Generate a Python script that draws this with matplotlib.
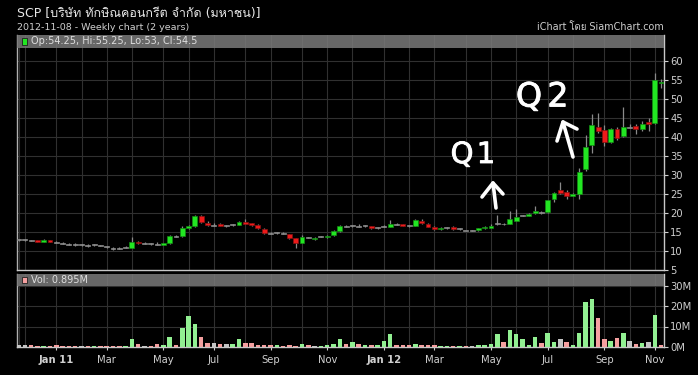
import numpy as np
import pandas as pd
import matplotlib
matplotlib.use("Agg")
import matplotlib.pyplot as plt
import matplotlib.patheffects as pe
from matplotlib import font_manager
from matplotlib.ft2font import FT2Font
from matplotlib.patches import Rectangle
from matplotlib.lines import Line2D

# weekly candles, Friday dated, last one is the running week (2012-11-08)
dates = pd.date_range("2010-11-26", periods=103, freq="W-FRI")

opens = [12.9, 12.9, 12.8, 12.9, 12.5, 12.9, 12.3, 12.0, 11.8, 11.6,
         11.6, 11.4, 11.6, 11.4, 11.1, 10.7, 10.6, 10.9, 10.9, 12.4,
         12.0, 11.9, 11.8, 11.6, 12.0, 13.8, 13.9, 16.0, 16.6, 19.3,
         17.3, 16.8, 17.2, 16.7, 16.9, 16.9, 17.7, 17.3, 16.8, 15.9,
         14.7, 14.8, 14.7, 14.4, 13.3, 12.2, 13.5, 13.1, 13.8, 13.6,
         14.1, 15.2, 16.5, 16.6, 16.5, 16.6, 16.5, 16.1, 16.5, 16.4,
         17.0, 17.0, 16.6, 16.6, 17.9, 17.2, 16.4, 15.7, 16.1, 16.3,
         15.8, 15.5, 15.5, 15.5, 16.0, 16.1, 17.2, 17.1, 17.2, 18.0,
         19.3, 19.3, 19.9, 20.1, 20.3, 23.6, 26.0, 25.6, 24.6, 25.0,
         31.5, 37.8, 42.6, 41.8, 38.7, 42.2, 40.3, 42.6, 43.0, 42.2,
         43.9, 43.6, 54.25]
highs = [13.2, 13.1, 13.0, 13.0, 13.1, 13.0, 12.6, 12.3, 12.1, 12.0,
         11.9, 11.9, 11.9, 11.7, 11.4, 11.1, 11.0, 11.3, 13.6, 12.6,
         12.3, 12.2, 12.5, 12.1, 14.1, 14.3, 16.6, 16.9, 19.6, 19.5,
         17.8, 17.3, 17.4, 16.9, 17.1, 17.9, 18.4, 17.5, 17.0, 16.0,
         15.0, 15.0, 14.9, 14.6, 13.4, 14.3, 13.8, 13.8, 14.0, 14.1,
         15.5, 16.8, 16.8, 16.8, 17.0, 16.8, 16.7, 16.3, 16.8, 18.1,
         17.4, 17.2, 16.8, 18.4, 18.5, 17.4, 16.6, 16.2, 16.3, 16.5,
         16.0, 15.6, 15.6, 16.1, 16.5, 17.1, 19.5, 17.4, 20.5, 21.0,
         19.6, 20.0, 21.9, 20.5, 23.5, 25.5, 28.2, 26.0, 25.2, 31.9,
         40.5, 46.0, 46.3, 43.2, 42.3, 42.6, 47.8, 43.3, 43.3, 44.3,
         45.0, 56.9, 55.25]
lows = [12.7, 12.7, 12.6, 12.4, 12.4, 12.3, 12.1, 11.8, 11.5, 11.4,
        11.4, 11.1, 11.4, 11.2, 10.9, 10.2, 10.4, 10.7, 10.8, 11.8,
        11.8, 11.7, 11.7, 11.5, 11.9, 13.6, 13.8, 15.8, 16.4, 17.4,
        16.5, 16.6, 16.5, 16.2, 16.7, 16.8, 17.0, 16.7, 15.9, 14.5,
        14.5, 14.6, 14.5, 13.2, 10.7, 12.0, 13.3, 12.9, 13.6, 13.5,
        14.0, 15.1, 16.3, 16.4, 16.3, 16.4, 15.9, 15.9, 16.2, 16.3,
        16.8, 16.5, 16.4, 16.5, 17.2, 16.2, 15.5, 15.5, 15.9, 15.5,
        15.6, 15.4, 15.3, 15.2, 15.9, 16.0, 16.9, 16.9, 17.1, 17.9,
        19.1, 19.2, 19.8, 19.8, 20.0, 22.8, 25.1, 23.6, 24.4, 23.8,
        31.1, 35.8, 41.0, 37.6, 38.3, 39.3, 40.0, 42.3, 40.8, 41.6,
        41.5, 43.3, 53.0]
closes = [12.9, 12.9, 12.8, 12.5, 13.0, 12.5, 12.3, 12.0, 11.8, 11.6,
          11.6, 11.4, 11.6, 11.4, 11.1, 10.7, 10.6, 10.9, 12.4, 12.0,
          12.0, 11.9, 11.8, 12.0, 13.9, 13.8, 16.0, 16.5, 19.3, 17.6,
          16.8, 16.8, 16.7, 16.7, 16.9, 17.7, 17.2, 16.9, 16.1, 14.8,
          14.7, 14.8, 14.7, 13.4, 12.1, 13.6, 13.5, 13.5, 13.8, 13.9,
          15.3, 16.6, 16.5, 16.6, 16.5, 16.6, 16.0, 16.1, 16.5, 17.1,
          17.0, 16.7, 16.6, 18.2, 17.4, 16.4, 15.7, 16.0, 16.1, 15.7,
          15.8, 15.5, 15.5, 16.0, 16.4, 16.6, 17.2, 17.1, 18.3, 19.0,
          19.3, 19.8, 20.4, 20.1, 23.3, 25.3, 25.3, 24.6, 24.9, 30.8,
          37.4, 43.2, 41.7, 38.6, 42.0, 39.7, 42.6, 42.6, 42.2, 43.3,
          43.3, 55.0, 54.5]
# volume in millions of shares
volumes = [0.8, 0.7, 0.6, 0.2, 0.2, 0.2, 0.6, 0.2, 0.2, 0.2,
           0.1, 0.2, 0.2, 0.1, 0.2, 0.2, 0.5, 0.2, 3.8, 1.2,
           0.2, 0.2, 1.1, 0.6, 4.6, 1.0, 9.1, 15.2, 11.1, 4.6,
           1.8, 1.8, 1.4, 1.2, 1.2, 3.8, 2.0, 2.0, 0.7, 0.7,
           1.0, 1.0, 0.2, 0.6, 0.2, 1.5, 0.6, 0.2, 0.2, 0.6,
           1.4, 3.8, 1.5, 2.2, 1.2, 0.6, 0.6, 0.6, 2.8, 6.4,
           0.8, 0.6, 0.6, 1.2, 0.7, 1.0, 0.6, 0.2, 0.5, 0.2,
           0.2, 0.1, 0.1, 0.6, 0.6, 1.4, 6.1, 2.2, 8.3, 6.4,
           3.6, 0.8, 5.0, 1.8, 6.9, 2.2, 3.6, 2.2, 0.8, 6.9,
           22.0, 23.5, 14.0, 3.8, 3.0, 4.3, 6.9, 2.8, 1.4, 1.8,
           2.2, 15.7, 0.895]

price_ticks = list(range(5, 61, 5))
vol_ticks = [0, 10, 20, 30]
vol_tick_labels = ["0M", "10M", "20M", "30M"]

title = "SCP [บริษัท ทักษิณคอนกรีต จำกัด (มหาชน)]"
subtitle = "2012-11-08 - Weekly chart (2 years)"
credit = "iChart โดย SiamChart.com"
ohlc_text = "Op:54.25, Hi:55.25, Lo:53, Cl:54.5"
vol_text = "Vol: 0.895M"


def find_font_with(char):
    code = ord(char)
    for f in font_manager.fontManager.ttflist:
        try:
            if code in FT2Font(f.fname).get_charmap():
                return f.name
        except Exception:
            continue
    return None


thai = find_font_with("บ")
fams = ["DejaVu Sans"] + ([thai] if thai else [])

W, H = 698, 375
BG = "#000000"
GRID = "#303030"
TXT = "#cfcfcf"
UP, DOWN, FLAT = "#22e622", "#ee1a1a", "#8c8c8c"
VUP, VDOWN, VFLAT = "#92f092", "#f5a0a0", "#c4c4c4"

fig = plt.figure(figsize=(W / 100, H / 100), dpi=100, facecolor=BG)

def fx(px):
    return px / W

def fy(py):
    return 1 - py / H

left, right = 17, 664
ax = fig.add_axes([fx(left), fy(270), fx(right - left), (270 - 35) / H], facecolor=BG)
axv = fig.add_axes([fx(left), fy(346.7), fx(right - left), (346.7 - 274) / H], facecolor=BG)

n = len(dates)
x = np.arange(n)
o = np.array(opens); h = np.array(highs); l = np.array(lows); c = np.array(closes)
v = np.array(volumes)

# month grid: first candle of every month
month_idx = [i for i in range(n) if i == 0 or dates[i].month != dates[i - 1].month]
label_idx = [i for i in month_idx if i > 0 and dates[i].month % 2 == 1]
labels = [d.strftime("%b %y") if d.month == 1 else d.strftime("%b") for d in dates[label_idx]]

xlim = (-0.24, (right - 18.5) / 6.3)

# ---- price panel
cols = np.where(c > o, UP, np.where(c < o, DOWN, FLAT))
edge = np.where(c > o, "#138a13", np.where(c < o, "#8a1010", FLAT))
ax.vlines(x, l, h, color="#8a8a8a", lw=0.9, zorder=2)
body_lo = np.minimum(o, c)
body_h = np.maximum(np.abs(c - o), 0.25)
ax.bar(x, body_h, bottom=body_lo - np.where(c == o, 0.12, 0), width=0.78,
       color=cols, edgecolor=edge, linewidth=0.5, zorder=3)

ax.set_xlim(*xlim)
ax.set_ylim(5, 5 + 235 / 3.8)
ax.set_xticks(month_idx)
ax.set_xticklabels([])
ax.tick_params(axis="x", length=0)
ax.yaxis.tick_right()
ax.set_yticks(price_ticks)
ax.tick_params(axis="y", colors=TXT, labelsize=7.2, length=3, width=0.8, pad=1.5)
ax.grid(True, color=GRID, lw=0.8, zorder=0)
ax.set_axisbelow(True)

# ---- volume panel
prev = np.concatenate([[c[0]], c[:-1]])
vcols = np.where(c > prev, VUP, np.where(c < prev, VDOWN, VFLAT))
axv.bar(x, v, width=0.72, color=vcols, zorder=3)
axv.set_xlim(*xlim)
axv.set_ylim(0, 72.7 / 2.02)
axv.yaxis.tick_right()
axv.set_yticks(vol_ticks)
axv.set_yticklabels(vol_tick_labels)
axv.tick_params(axis="y", colors=TXT, labelsize=7.2, length=3, width=0.8, pad=1.5)
axv.set_xticks(label_idx)
axv.set_xticklabels(labels)
axv.set_xticks([i for i in month_idx if i not in label_idx], minor=True)
axv.tick_params(axis="x", which="major", colors=TXT, labelsize=7.2, length=2, pad=4)
axv.tick_params(axis="x", which="minor", length=0)
for t in axv.get_xticklabels():
    if t.get_text().startswith("Jan"):
        t.set_fontweight("bold")
axv.grid(True, which="both", color=GRID, lw=0.8, zorder=0)
axv.set_axisbelow(True)

for a in (ax, axv):
    a.spines["top"].set_visible(False)
    a.spines["left"].set_color("#b0b0b0")
    a.spines["bottom"].set_color("#c8c8c8")
    a.spines["right"].set_color("#c8c8c8")
    for s in a.spines.values():
        s.set_linewidth(1.0)

# header bars
hp = 13 / 235
ax.add_patch(Rectangle((0, 1 - hp), 1, hp, transform=ax.transAxes,
                       facecolor="#7a7a7a", alpha=0.85, lw=0, zorder=5, clip_on=False))
ax.add_patch(Rectangle((0.008, 1 - hp * 0.78), 0.0075, hp * 0.56, transform=ax.transAxes,
                       facecolor=UP, edgecolor="#202020", lw=0.6, zorder=6))
ax.text(0.022, 1 - hp / 2, ohlc_text, transform=ax.transAxes, color="#dedede",
        fontsize=7, va="center", ha="left", zorder=7)
hv = 12 / 72.7
axv.add_patch(Rectangle((0, 1 - hv), 1, hv, transform=axv.transAxes,
                        facecolor="#7a7a7a", alpha=0.85, lw=0, zorder=5, clip_on=False))
axv.add_patch(Rectangle((0.008, 1 - hv * 0.78), 0.0075, hv * 0.56, transform=axv.transAxes,
                        facecolor=VDOWN, edgecolor="#202020", lw=0.6, zorder=6))
axv.text(0.022, 1 - hv / 2, vol_text, transform=axv.transAxes, color="#dedede",
         fontsize=7, va="center", ha="left", zorder=7)

# titles
fig.text(fx(17), fy(14), title, color="#e8e8e8", fontsize=9.0, va="center",
         ha="left", family=fams)
fig.text(fx(17), fy(27.5), subtitle, color=TXT, fontsize=6.8, va="center", ha="left")
fig.text(fx(664), fy(27.5), credit, color=TXT, fontsize=6.9, va="center", ha="right",
         family=fams)

# hand-written notes
stroke = [pe.withStroke(linewidth=0.6, foreground="white")]
for ch, px, py, size in [("Q", 462, 155, 21), ("1", 486, 155, 21),
                         ("Q", 529, 97, 24), ("2", 558, 97, 24)]:
    fig.text(fx(px), fy(py), ch, color="white", fontsize=size, va="center",
             ha="center", path_effects=stroke)

for pts in ([(496, 208), (493, 183)], [(482, 197), (493, 183), (503, 194)],
            [(573, 157), (563, 122)], [(557, 141), (563, 122), (577, 129)]):
    xs = [fx(p[0]) for p in pts]
    ys = [fy(p[1]) for p in pts]
    fig.add_artist(Line2D(xs, ys, color="white", lw=2.6, solid_capstyle="round",
                          solid_joinstyle="round"))

fig.savefig("out.png", dpi=100, facecolor=BG)
